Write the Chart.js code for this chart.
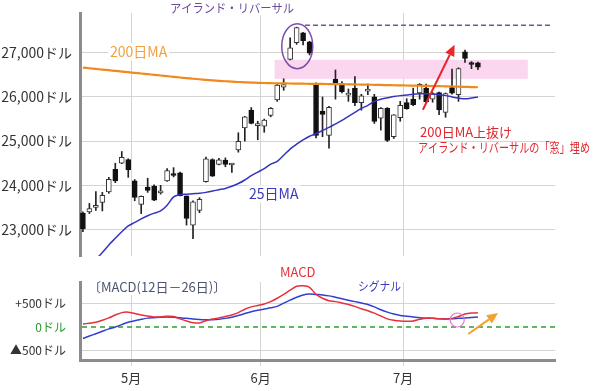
<!DOCTYPE html>
<html lang="ja"><head><meta charset="utf-8">
<script src="https://cdn.jsdelivr.net/npm/chart.js@4.4.1/dist/chart.umd.min.js"></script>
<style>
html,body{margin:0;padding:0;background:#fff;}
#wrap{position:relative;width:600px;height:391px;overflow:hidden;background:#fff;}
canvas{position:absolute;left:0;}
#main{top:0;}
#sub{top:262px;}
</style></head><body>
<div id="wrap"><canvas id="main" width="600" height="266"></canvas><canvas id="sub" width="600" height="129"></canvas></div>
<script>
// ---- data (NY Dow daily) ----
const dates = ['4/21','4/22','4/23','4/24','4/27','4/28','4/29','4/30',
 '5/1','5/4','5/5','5/6','5/7','5/8','5/11','5/12','5/13','5/14','5/15','5/18','5/19','5/20','5/21','5/22','5/26','5/27','5/28','5/29',
 '6/1','6/2','6/3','6/4','6/5','6/8','6/9','6/10','6/11','6/12','6/15','6/16','6/17','6/18','6/19','6/22','6/23','6/24','6/25','6/26','6/29','6/30',
 '7/1','7/2','7/6','7/7','7/8','7/9','7/10','7/13','7/14','7/15','7/16','7/17'];
const open  = [23370,23400,23500,23610,23850,24360,24500,24580,24100,23570,23960,23980,23830,24100,24260,24280,23760,23100,23430,24080,24580,24470,24570,24460,24800,25300,25700,25350,
 25340,25580,25930,26220,26850,27230,27450,27250,26300,25680,25130,26400,26300,26040,26200,25870,26130,26000,25520,25740,25100,25530,
 25870,25950,26090,26200,25950,26100,25650,26210,26050,27020,26770,26770];
const high  = [23400,23590,23860,23840,24180,24500,24765,24600,24130,23760,24160,24010,24000,24380,24400,24300,23760,23650,23720,24640,24600,24610,24620,24490,25190,25560,25760,25450,
 25500,25760,26300,26410,27340,27580,27460,27260,26320,26000,25790,26610,26350,26180,26460,26060,26290,26060,25760,25760,25600,25900,
 25960,26200,26300,26290,26100,26110,26090,26630,26660,27060,26800,26790];
const low   = [22950,23360,23430,23420,23820,24060,24490,24180,23650,23360,23840,23650,23800,24090,24190,23760,23100,22790,23380,24070,24200,24460,24420,24290,24750,25000,25390,25030,
 25200,25550,25900,26150,26840,27190,27180,26950,25070,25100,24840,25950,26090,25900,25800,25700,26050,25400,25250,24990,25060,25450,
 25720,25800,25950,25860,25880,25600,25540,26060,25900,26780,26640,26620];
const close = [23020,23475,23515,23775,24134,24100,24634,24346,23724,23750,23883,23665,23876,24331,24222,23765,23248,23625,23685,24597,24207,24576,24474,24465,24995,25548,25400,25383,
 25475,25742,26270,26282,27111,27572,27272,26990,25128,25605,25763,26290,26120,26080,25871,26025,26156,25445,25745,25016,25596,25813,
 25735,25827,26287,25890,26067,25706,26075,26086,26643,26870,26734,26672];
const ma200 = [26665,26650,26635,26620,26605,26590,26575,26560,26545,26530,26515,26500,26485,26470,26455,26440,26425,26412,26400,26388,26376,26365,26355,26346,26338,26331,26325,26320,
 26316,26312,26309,26306,26304,26302,26300,26298,26296,26294,26292,26290,26288,26286,26283,26280,26277,26274,26271,26268,26265,26262,
 26259,26256,26253,26250,26247,26244,26240,26236,26232,26228,26224,26220];
const ma25  = [22000,22150,22320,22480,22650,22800,22950,23080,23160,23240,23310,23370,23420,23550,23740,23790,23800,23810,23820,23840,23870,23900,23930,23980,24040,24120,24220,24300,
 24380,24480,24540,24680,24820,24930,25030,25110,25170,25240,25310,25390,25470,25560,25650,25740,25810,25900,25950,25980,26010,26030,
 26045,26060,26070,26075,26070,26050,26030,26000,25975,25960,25975,26000];
const macd   = [60,80,100,140,190,250,300,310,280,250,230,210,210,225,220,170,125,90,85,130,165,190,220,250,300,370,420,450,
 480,530,600,680,770,850,860,830,680,600,550,530,500,470,430,380,340,290,230,170,140,125,
 120,125,160,185,180,170,167,180,220,270,290,295];
const signal = [-240,-190,-140,-90,-40,0,50,100,130,160,185,195,205,210,205,195,180,165,155,150,150,160,180,205,240,280,320,350,
 375,400,430,500,560,620,670,690,680,670,650,620,590,560,530,500,470,420,360,310,270,240,
 225,210,195,185,180,170,167,170,180,190,200,208];
const priceTicks = [23000,24000,25000,26000,27000];
const macdTicks = [-500,0,500];
const monthStarts = ['5/1','6/1','7/1'];
const monthLabels = ['5月','6月','7月'];

// ---- helpers ----
const FONT = '"Noto Sans CJK JP","Noto Sans",sans-serif';
Chart.defaults.font.family = FONT;
const idx = dates.map((d,i)=>i);
const monthTickVals = monthStarts.map(d => dates.indexOf(d) - 0.55);
const X_MIN = -0.45, X_MAX = 72.9;

function text(ctx, s, x, y, size, color, maxW, bg){
  ctx.save();
  ctx.font = size + 'px ' + FONT;
  ctx.textBaseline = 'middle'; ctx.textAlign = 'left';
  const w = Math.min(ctx.measureText(s).width, maxW);
  if (bg){ ctx.fillStyle = '#fff'; ctx.fillRect(x-2, y-size*0.62, w+4, size*1.24); }
  ctx.fillStyle = color; ctx.fillText(s, x, y, maxW);
  ctx.restore();
}
function arrow(ctx, x0,y0,x1,y1,color,w){
  const a = Math.atan2(y1-y0, x1-x0), L = 11, H = 5;
  const bx = x1 - L*Math.cos(a), by = y1 - L*Math.sin(a);
  ctx.save();
  ctx.strokeStyle = color; ctx.fillStyle = color; ctx.lineWidth = w;
  ctx.beginPath(); ctx.moveTo(x0,y0); ctx.lineTo(bx,by); ctx.stroke();
  ctx.beginPath(); ctx.moveTo(x1,y1);
  ctx.lineTo(bx + H*Math.sin(a), by - H*Math.cos(a));
  ctx.lineTo(bx - H*Math.sin(a), by + H*Math.cos(a));
  ctx.closePath(); ctx.fill();
  ctx.restore();
}
function noPad(s){ s.paddingTop = 0; s.paddingBottom = 0; }

const mainAnn = {
  id: 'mainAnn',
  beforeDatasetsDraw(chart){
    const {ctx, scales:{x, y}} = chart;
    ctx.save();
    ctx.fillStyle = '#FAD6EF';
    const x0 = x.getPixelForValue(29.6), x1 = x.getPixelForValue(68.7);
    const y0 = y.getPixelForValue(26840), y1 = y.getPixelForValue(26410);
    ctx.fillRect(x0, y0, x1-x0, y1-y0);
    ctx.restore();
  },
  afterDatasetsDraw(chart){
    const {ctx, scales:{x, y}} = chart;
    ctx.save();
    ctx.strokeStyle = '#7E4FA8'; ctx.lineWidth = 1.5;
    ctx.beginPath();
    ctx.ellipse(x.getPixelForValue(33.1), y.getPixelForValue(27150), 15.5, 22.5, 0, 0, Math.PI*2);
    ctx.stroke();
    ctx.setLineDash([5,3]);
    ctx.beginPath();
    const yd = y.getPixelForValue(27620);
    ctx.moveTo(x.getPixelForValue(34.3), yd); ctx.lineTo(x.getPixelForValue(72.5), yd);
    ctx.stroke();
    ctx.setLineDash([]);
    ctx.restore();
    arrow(ctx, x.getPixelForValue(52.5), y.getPixelForValue(25710), x.getPixelForValue(57.4), y.getPixelForValue(27180), '#E8262C', 2);
    text(ctx, 'アイランド・リバーサル', 170, 8, 12, '#6B4C9A', 124, true);
    text(ctx, '200日MA', 110, 52, 14, '#F4A040', 58, true);
    text(ctx, '25日MA', 249, 194, 14, '#3A3AB8', 53, true);
    text(ctx, '200日MA上抜け', 420, 132, 13, '#E0282E', 96, false);
    text(ctx, 'アイランド・リバーサルの「窓」埋め', 418, 147, 13, '#E0282E', 172, false);
  }
};

const subAnn = {
  id: 'subAnn',
  beforeDatasetsDraw(chart){
    const {ctx, chartArea, scales:{y}} = chart;
    ctx.save();
    ctx.strokeStyle = '#2E9E2E'; ctx.lineWidth = 1.5; ctx.setLineDash([5,4]);
    const y0 = y.getPixelForValue(0);
    ctx.beginPath(); ctx.moveTo(chartArea.left+2, y0); ctx.lineTo(chartArea.right, y0); ctx.stroke();
    ctx.restore();
  },
  afterDatasetsDraw(chart){
    const {ctx, scales:{x, y}} = chart;
    ctx.save();
    ctx.strokeStyle = '#E47AD6'; ctx.lineWidth = 1.2;
    ctx.beginPath(); ctx.arc(x.getPixelForValue(57.8), y.getPixelForValue(146), 7, 0, Math.PI*2); ctx.stroke();
    ctx.restore();
    arrow(ctx, x.getPixelForValue(59.5), y.getPixelForValue(-146), x.getPixelForValue(64.1), y.getPixelForValue(292), '#F4A030', 2);
    text(ctx, '〔MACD(12日－26日)〕', 88, 25, 13, '#4B5470', 143, true);
    text(ctx, 'MACD', 280, 10, 13, '#E8303A', 39, false);
    text(ctx, 'シグナル', 358, 24, 12, '#3A3AC0', 43, false);
  }
};

// ---- main candlestick chart ----
new Chart(document.getElementById('main'), {
  type: 'bar',
  data: {
    datasets: [
      { type:'line', label:'200日MA', data: idx.map(i=>({x:i, y:ma200[i]})), borderColor:'#F08A1E', borderWidth:2.2, pointRadius:0, tension:0.3, order:0 },
      { type:'line', label:'25日MA', data: idx.map(i=>({x:i, y:ma25[i]})), borderColor:'#3434BE', borderWidth:1.5, pointRadius:0, tension:0.3, order:0 },
      { label:'body', data: idx.map(i=>({x:i, y:[open[i], close[i]]})),
        backgroundColor: idx.map(i=> close[i] >= open[i] ? '#ffffff' : '#111111'),
        borderColor: idx.map(i=> close[i] >= open[i] ? '#333333' : '#111111'),
        borderWidth:1, borderSkipped:false, barThickness:5, minBarLength:2, grouped:false, order:1 },
      { label:'wick', data: idx.map(i=>({x:i, y:[low[i], high[i]]})),
        backgroundColor:'#222', borderWidth:0, barThickness:1, grouped:false, order:2 }
    ]
  },
  options: {
    responsive:false, animation:false,
    layout:{ padding:{ left:0, right:45, top:13, bottom:10 } },
    plugins:{ legend:{display:false}, tooltip:{enabled:false} },
    scales:{
      x:{ type:'linear', min:X_MIN, max:X_MAX, offset:false,
        afterBuildTicks: s => { s.ticks = monthTickVals.map(v=>({value:v})); },
        afterFit: s => { s.height = 0; s.paddingLeft = 0; s.paddingRight = 0; },
        ticks:{ display:false },
        grid:{ color:'#d4d4d4', drawTicks:false, offset:false },
        border:{ display:false } },
      y:{ min:22400, max:27900,
        afterBuildTicks: s => { s.ticks = priceTicks.map(v=>({value:v})); },
        afterFit: s => { s.width = 80; noPad(s); },
        ticks:{ callback: v => v.toLocaleString('en-US') + 'ドル', color:'#333', font:{size:14}, padding:8 },
        grid:{ color:'#d4d4d4', drawTicks:false },
        border:{ color:'#8c8c8c', width:3 } }
    }
  },
  plugins:[mainAnn]
});

// ---- MACD chart ----
new Chart(document.getElementById('sub'), {
  type: 'line',
  data: {
    datasets: [
      { label:'MACD', data: idx.map(i=>({x:i, y:macd[i]})), borderColor:'#E8303A', borderWidth:1.5, pointRadius:0, tension:0.3 },
      { label:'シグナル', data: idx.map(i=>({x:i, y:signal[i]})), borderColor:'#3040D0', borderWidth:1.5, pointRadius:0, tension:0.3 }
    ]
  },
  options: {
    responsive:false, animation:false,
    layout:{ padding:{ left:0, right:45, top:20, bottom:0 } },
    plugins:{ legend:{display:false}, tooltip:{enabled:false} },
    scales:{
      x:{ type:'linear', min:X_MIN, max:X_MAX, offset:false,
        afterBuildTicks: s => { s.ticks = monthTickVals.map(v=>({value:v})); },
        afterFit: s => { s.height = 31; s.paddingLeft = 0; s.paddingRight = 0; },
        ticks:{ callback: (v, i) => monthLabels[i], color:'#333', font:{size:13}, padding:4, maxRotation:0, autoSkip:false },
        grid:{ color:'#d4d4d4', drawTicks:true, tickLength:6, offset:false },
        border:{ color:'#8c8c8c', width:3 } },
      y:{ min:-690, max:940,
        afterBuildTicks: s => { s.ticks = macdTicks.map(v=>({value:v})); },
        afterFit: s => { s.width = 80; noPad(s); },
        ticks:{ callback: v => v > 0 ? '+' + v + 'ドル' : (v < 0 ? '▲' + (-v) + 'ドル' : '0ドル'),
                color: c => (c.tick && c.tick.value === 0) ? '#2F9A2F' : '#333', font:{size:12}, padding:14 },
        grid:{ color: c => (c.tick && c.tick.value === 0) ? 'rgba(0,0,0,0)' : '#d4d4d4', drawTicks:false },
        border:{ color:'#8c8c8c', width:3 } }
    }
  },
  plugins:[subAnn]
});
</script></body></html>
